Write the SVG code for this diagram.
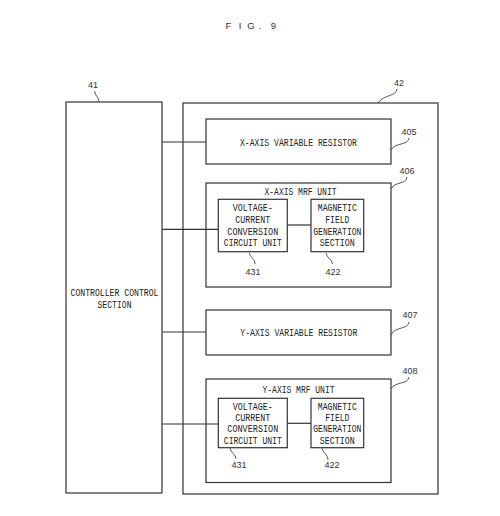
<svg xmlns="http://www.w3.org/2000/svg" width="500" height="516" viewBox="0 0 500 516">
<style>
.box{fill:#fff;stroke:#333;stroke-width:1.2}
.ln{fill:none;stroke:#333;stroke-width:1.2}
.ld{fill:none;stroke:#444;stroke-width:0.9}
.t{font-family:"Liberation Mono",monospace;font-size:10.5px;fill:#222;text-anchor:middle}
.n{font-family:"Liberation Sans",Arial,sans-serif;font-size:9px;fill:#333;text-anchor:middle}
.title{font-family:"Liberation Sans",Arial,sans-serif;font-size:9.5px;fill:#333}
</style>
<rect width="500" height="516" fill="#fff"/>
<text class="title" x="225.5 238.7 247.2 258.8 262 270.8" y="29">FIG. 9</text>

<g id="node-41">
<rect class="box" x="66" y="102" width="96" height="391"/>
<text class="t" x="114.5" y="296" textLength="88" lengthAdjust="spacingAndGlyphs">CONTROLLER CONTROL</text>
<text class="t" x="114.5" y="307.5" textLength="34" lengthAdjust="spacingAndGlyphs">SECTION</text>
<path class="ld" d="M94.5,91 C95,96 99,97 99,102"/>
<text class="n" x="93" y="88.3">41</text>
</g>

<g id="node-42">
<rect class="box" x="183" y="103" width="255" height="391"/>
<path class="ld" d="M397,89 C396,97 384,94 378,103"/>
<text class="n" x="399" y="86">42</text>
</g>

<g id="node-405">
<rect class="box" x="206" y="119" width="185" height="45"/>
<text class="t" x="298.5" y="146" textLength="117" lengthAdjust="spacingAndGlyphs">X-AXIS VARIABLE RESISTOR</text>
<path class="ld" d="M409,138 C408,146 395,142 391,150"/>
<text class="n" x="409" y="135">405</text>
</g>

<g id="node-406">
<rect class="box" x="206" y="183" width="185" height="104"/>
<text class="t" x="300.5" y="195.3" textLength="72" lengthAdjust="spacingAndGlyphs">X-AXIS MRF UNIT</text>
<path class="ld" d="M407,177 C406,185 395,181 391,189"/>
<text class="n" x="407" y="173.5">406</text>
</g>

<g id="node-431-x">
<rect class="box" x="218.3" y="199.3" width="69" height="52.4"/>
<text class="t" x="252.8" y="211" textLength="40" lengthAdjust="spacingAndGlyphs">VOLTAGE-</text>
<text class="t" x="252.8" y="222.8" textLength="35" lengthAdjust="spacingAndGlyphs">CURRENT</text>
<text class="t" x="252.8" y="234.6" textLength="51" lengthAdjust="spacingAndGlyphs">CONVERSION</text>
<text class="t" x="252.8" y="246.4" textLength="58" lengthAdjust="spacingAndGlyphs">CIRCUIT UNIT</text>
<path class="ld" d="M249.5,253 C250,258 255,258 255,264"/>
<text class="n" x="253" y="275">431</text>
</g>

<g id="node-422-x">
<rect class="box" x="311" y="199.3" width="52.7" height="52.4"/>
<text class="t" x="337.3" y="211" textLength="39" lengthAdjust="spacingAndGlyphs">MAGNETIC</text>
<text class="t" x="337.3" y="222.8" textLength="24" lengthAdjust="spacingAndGlyphs">FIELD</text>
<text class="t" x="337.3" y="234.6" textLength="48" lengthAdjust="spacingAndGlyphs">GENERATION</text>
<text class="t" x="337.3" y="246.4" textLength="35" lengthAdjust="spacingAndGlyphs">SECTION</text>
<path class="ld" d="M326,253 C326.5,258 332,259 332.5,264"/>
<text class="n" x="333" y="275">422</text>
</g>

<g id="node-407">
<rect class="box" x="206" y="310" width="185" height="45"/>
<text class="t" x="298.8" y="336" textLength="117" lengthAdjust="spacingAndGlyphs">Y-AXIS VARIABLE RESISTOR</text>
<path class="ld" d="M409,322 C408,330 395,326 391,335"/>
<text class="n" x="410" y="318">407</text>
</g>

<g id="node-408">
<rect class="box" x="206" y="379" width="185" height="103.5"/>
<text class="t" x="298.5" y="393" textLength="72" lengthAdjust="spacingAndGlyphs">Y-AXIS MRF UNIT</text>
<path class="ld" d="M409,377 C408,385 395,381 391,389"/>
<text class="n" x="410" y="374">408</text>
</g>

<g id="node-431-y">
<rect class="box" x="218.3" y="398.3" width="69" height="49.4"/>
<text class="t" x="252.8" y="409.5" textLength="40" lengthAdjust="spacingAndGlyphs">VOLTAGE-</text>
<text class="t" x="252.8" y="421" textLength="35" lengthAdjust="spacingAndGlyphs">CURRENT</text>
<text class="t" x="252.8" y="432.3" textLength="51" lengthAdjust="spacingAndGlyphs">CONVERSION</text>
<text class="t" x="252.8" y="443.6" textLength="58" lengthAdjust="spacingAndGlyphs">CIRCUIT UNIT</text>
<path class="ld" d="M230,448 C230.5,453 236,454 236,459"/>
<text class="n" x="239" y="468">431</text>
</g>

<g id="node-422-y">
<rect class="box" x="311" y="398.3" width="52.7" height="49.4"/>
<text class="t" x="337.3" y="409.5" textLength="39" lengthAdjust="spacingAndGlyphs">MAGNETIC</text>
<text class="t" x="337.3" y="421" textLength="24" lengthAdjust="spacingAndGlyphs">FIELD</text>
<text class="t" x="337.3" y="432.3" textLength="48" lengthAdjust="spacingAndGlyphs">GENERATION</text>
<text class="t" x="337.3" y="443.6" textLength="35" lengthAdjust="spacingAndGlyphs">SECTION</text>
<path class="ld" d="M322,448 C322.5,453 328,454 328,460"/>
<text class="n" x="332" y="468">422</text>
</g>

<g id="connectors">
<line class="ln" x1="162" y1="142" x2="206" y2="142"/>
<line class="ln" x1="162" y1="229.3" x2="218.3" y2="229.3"/>
<line class="ln" x1="287.3" y1="225" x2="311" y2="225"/>
<line class="ln" x1="162" y1="332" x2="206" y2="332"/>
<line class="ln" x1="162" y1="424" x2="218.3" y2="424"/>
<line class="ln" x1="287.3" y1="423.3" x2="311" y2="423.3"/>
</g>
</svg>
